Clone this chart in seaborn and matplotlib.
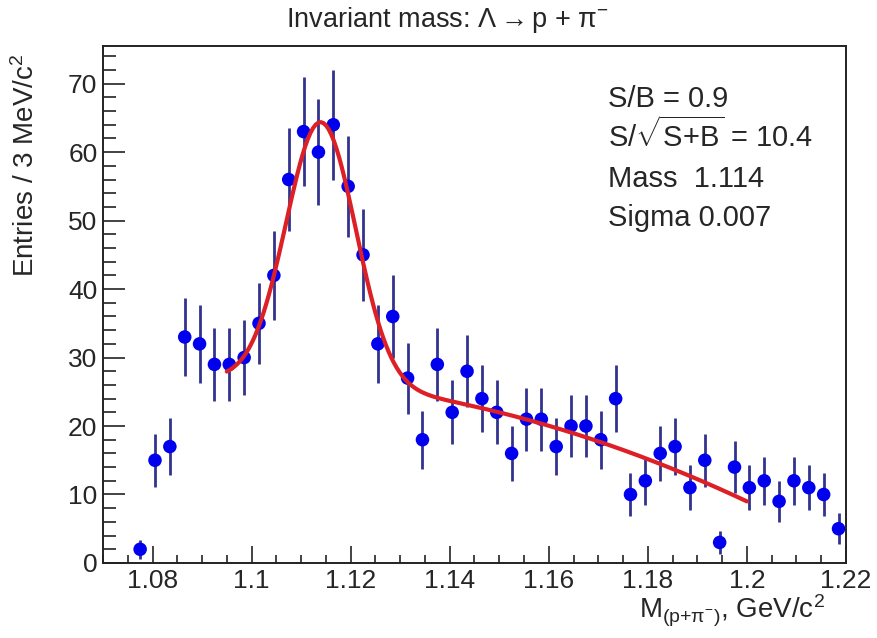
import seaborn as sns
import pandas as pd
import matplotlib.pyplot as plt
from matplotlib.ticker import MultipleLocator
import numpy as np

sns.set_style('ticks')
plt.rcParams['font.family'] = ['Liberation Sans', 'DejaVu Sans']
plt.rcParams['mathtext.fontset'] = 'custom'
plt.rcParams['mathtext.rm'] = 'Liberation Sans'
plt.rcParams['mathtext.it'] = 'Liberation Sans'
plt.rcParams['mathtext.bf'] = 'Liberation Sans:bold'
plt.rcParams['mathtext.default'] = 'regular'

# M(p+pi-) histogram, 3 MeV bins, first filled bin centred at 1.0775
first_bin = 1.0775
bin_width = 0.003
counts = [2, 15, 17, 33, 32, 29, 29, 30, 35, 42,
          56, 63, 60, 64, 55, 45, 32, 36, 27, 18,
          29, 22, 28, 24, 22, 16, 21, 21, 17, 20,
          20, 18, 24, 10, 12, 16, 17, 11, 15, 3,
          14, 11, 12, 9, 12, 11, 10, 5]

# fit: gaussian (mass/sigma from the stat box) + quadratic background
fit_mass = 1.114
fit_sigma = 0.007
fit_amp = 38.0
bg_x0 = 1.096
bg_coef = [27.0, -5.7, -1610.0]
fit_range = (1.095, 1.2)

x_ticks = [1.08, 1.10, 1.12, 1.14, 1.16, 1.18, 1.20, 1.22]
x_ticklabels = ['1.08', '1.1', '1.12', '1.14', '1.16', '1.18', '1.2', '1.22']

stats_lines = ['S/B = 0.9', 'S/$\\sqrt{S{+}B}$ = 10.4', 'Mass  1.114', 'Sigma 0.007']

df = pd.DataFrame({'mass': first_bin + bin_width * np.arange(len(counts)),
                   'entries': counts})
df['err'] = np.sqrt(df['entries'])

xf = np.linspace(fit_range[0], fit_range[1], 200)
t = xf - bg_x0
fit_df = pd.DataFrame({
    'mass': xf,
    'fit': fit_amp * np.exp(-0.5 * ((xf - fit_mass) / fit_sigma) ** 2)
           + bg_coef[0] + bg_coef[1] * t + bg_coef[2] * t ** 2,
})

fig = plt.figure(figsize=(8.78, 6.38), dpi=100)
ax = fig.add_axes([0.1173, 0.1176, 0.8462, 0.8103])

ax.errorbar(df['mass'], df['entries'], yerr=df['err'], fmt='none',
            ecolor='#33338f', elinewidth=2.0, capsize=0, zorder=2)
sns.scatterplot(data=df, x='mass', y='entries', color='#0000ee', s=95,
                edgecolor='none', zorder=3, ax=ax)
sns.lineplot(data=fit_df, x='mass', y='fit', color='#dd1f26', lw=3,
             zorder=4, ax=ax)

ax.set_xlim(1.07, 1.22)
ax.set_ylim(0, 75.5)
ax.set_xticks(x_ticks)
ax.set_xticklabels(x_ticklabels)
ax.xaxis.set_minor_locator(MultipleLocator(0.005))
ax.yaxis.set_major_locator(MultipleLocator(10))
ax.yaxis.set_minor_locator(MultipleLocator(2))
ax.tick_params(axis='both', which='both', direction='in', top=False, right=False,
               labelsize=19, color='#222222')
ax.tick_params(axis='x', which='major', length=12, width=1.2, pad=4)
ax.tick_params(axis='x', which='minor', length=6, width=1.2)
ax.tick_params(axis='y', which='major', length=16, width=1.2, pad=4)
ax.tick_params(axis='y', which='minor', length=9, width=1.2)
for sp in ax.spines.values():
    sp.set_linewidth(1.4)
    sp.set_color('#222222')

ax.set_xlabel('M$_{(p{+}\\pi^{-})}$, GeV/c$^2$', fontsize=20, loc='right')
ax.xaxis.set_label_coords(0.972, -0.058)
ax.set_ylabel('Entries / 3 MeV/c$^2$', fontsize=20, loc='top')
ax.yaxis.set_label_coords(-0.085, 0.985)

fig.text(0.51, 0.968, 'Invariant mass: \u039b$\\rightarrow$p + \u03c0$^{-}$',
         ha='center', va='center', fontsize=19.5)

for i, line in enumerate(stats_lines):
    ax.text(0.68, 0.882 - 0.077 * i, line, transform=ax.transAxes,
            fontsize=21, va='baseline', ha='left')

fig.savefig('out.png', dpi=100)
